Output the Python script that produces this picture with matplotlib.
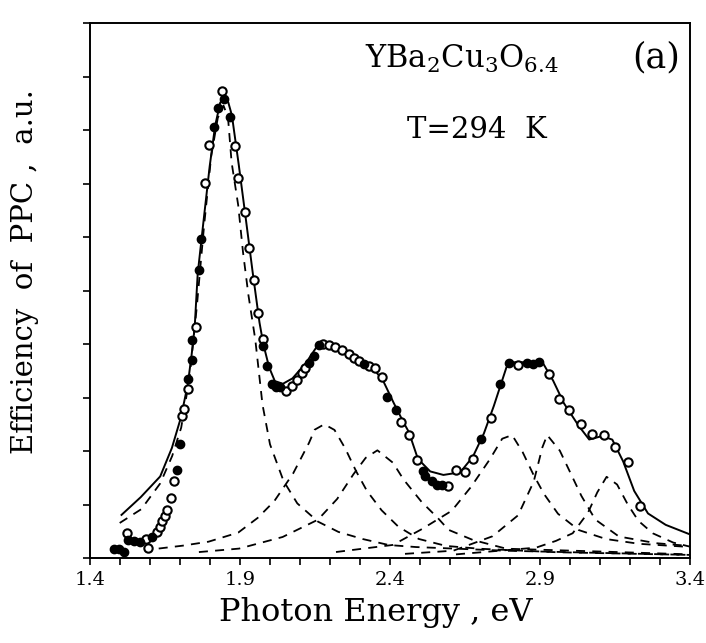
import matplotlib

matplotlib.use("Agg")
import matplotlib.pyplot as plt
from matplotlib.ticker import MultipleLocator, FixedLocator, NullFormatter

# measured points, open symbols (photon energy eV, efficiency a.u.)
open_e = [1.524, 1.585, 1.592, 1.624, 1.633, 1.639, 1.649, 1.658, 1.670, 1.681,
          1.706, 1.712, 1.726, 1.752, 1.784, 1.796, 1.840, 1.883, 1.894, 1.915,
          1.929, 1.946, 1.961, 1.977, 2.054, 2.073, 2.089, 2.105, 2.118, 2.178,
          2.198, 2.218, 2.239, 2.263, 2.280, 2.297, 2.331, 2.351, 2.372, 2.438,
          2.463, 2.489, 2.593, 2.621, 2.651, 2.676, 2.738, 2.825, 2.929, 2.962,
          2.997, 3.036, 3.074, 3.114, 3.149, 3.194, 3.233]
open_y = [0.475, 0.356, 0.190, 0.496, 0.591, 0.686, 0.781, 0.896, 1.123, 1.443,
          2.665, 2.779, 3.156, 4.322, 7.005, 7.719, 8.739, 7.699, 7.103, 6.471,
          5.800, 5.204, 4.590, 4.088, 3.131, 3.209, 3.325, 3.459, 3.555, 3.998,
          3.984, 3.951, 3.899, 3.810, 3.738, 3.686, 3.600, 3.548, 3.384, 2.536,
          2.299, 1.836, 1.352, 1.638, 1.607, 1.856, 2.617, 3.609, 3.443, 2.982,
          2.765, 2.511, 2.313, 2.302, 2.085, 1.795, 0.979]

# measured points, filled symbols
full_e = [1.479, 1.496, 1.513, 1.528, 1.545, 1.568, 1.608, 1.690, 1.700, 1.725,
          1.739, 1.741, 1.762, 1.771, 1.814, 1.825, 1.847, 1.866, 1.975, 1.991,
          2.006, 2.020, 2.033, 2.131, 2.146, 2.162, 2.313, 2.391, 2.420, 2.511,
          2.518, 2.539, 2.556, 2.573, 2.704, 2.767, 2.798, 2.855, 2.875, 2.898]
full_y = [0.166, 0.170, 0.117, 0.345, 0.311, 0.297, 0.399, 1.651, 2.140, 3.343,
          3.702, 4.075, 5.391, 5.973, 8.059, 8.417, 8.590, 8.239, 3.956, 3.585,
          3.251, 3.198, 3.201, 3.650, 3.786, 3.976, 3.634, 3.013, 2.776, 1.634,
          1.542, 1.434, 1.363, 1.366, 2.236, 3.260, 3.640, 3.652, 3.637, 3.661]

# total fit (solid line)
fit_e = [1.505, 1.569, 1.634, 1.673, 1.703, 1.726, 1.739, 1.749, 1.759, 1.779,
         1.799, 1.817, 1.834, 1.847, 1.861, 1.873, 1.896, 1.919, 1.942, 1.965,
         1.978, 1.997, 2.016, 2.043, 2.075, 2.120, 2.161, 2.195, 2.239, 2.297,
         2.341, 2.376, 2.412, 2.445, 2.463, 2.493, 2.534, 2.578, 2.634, 2.676,
         2.713, 2.746, 2.788, 2.808, 2.908, 2.944, 2.980, 3.029, 3.064, 3.107,
         3.141, 3.177, 3.214, 3.260, 3.319, 3.396]
fit_y = [0.808, 1.139, 1.527, 2.060, 2.627, 3.250, 3.814, 4.321, 5.315, 6.330,
         7.326, 8.079, 8.513, 8.609, 8.518, 8.277, 7.346, 6.359, 5.353, 4.403,
         3.994, 3.568, 3.310, 3.259, 3.360, 3.650, 3.995, 4.002, 3.917, 3.724,
         3.564, 3.328, 2.905, 2.538, 2.355, 1.855, 1.621, 1.555, 1.604, 1.893,
         2.331, 2.843, 3.564, 3.661, 3.663, 3.315, 2.892, 2.472, 2.217, 2.282,
         2.215, 1.810, 1.256, 0.835, 0.622, 0.452]

# fitted components (dashed lines)
c1_e = [1.499, 1.571, 1.634, 1.674, 1.704, 1.732, 1.756, 1.780, 1.804, 1.826,
        1.845, 1.860, 1.872, 1.894, 1.910, 1.928, 1.951, 1.975, 2.000, 2.045,
        2.091, 2.160, 2.228, 2.309, 2.396, 2.487, 2.788, 3.122, 3.400]
c1_y = [0.657, 0.915, 1.396, 1.910, 2.440, 3.382, 4.697, 6.199, 7.515, 8.230,
        8.459, 8.237, 7.398, 6.597, 5.721, 4.920, 4.082, 2.870, 2.127, 1.444,
        1.023, 0.682, 0.490, 0.357, 0.245, 0.207, 0.138, 0.095, 0.060]

c2_e = [1.629, 1.709, 1.795, 1.894, 1.959, 2.014, 2.077, 2.130, 2.149, 2.181,
        2.215, 2.251, 2.287, 2.323, 2.372, 2.428, 2.496, 2.587, 2.697, 2.955, 3.400]
c2_y = [0.179, 0.233, 0.307, 0.477, 0.752, 1.063, 1.582, 2.154, 2.401, 2.502,
        2.396, 2.048, 1.625, 1.258, 0.894, 0.587, 0.358, 0.228, 0.176, 0.110, 0.060]

c3_e = [1.763, 1.897, 2.042, 2.160, 2.224, 2.278, 2.319, 2.358, 2.410, 2.445,
        2.505, 2.560, 2.595, 2.676, 2.788, 3.120, 3.400]
c3_y = [0.113, 0.178, 0.395, 0.719, 1.107, 1.567, 1.875, 2.015, 1.782, 1.471,
        1.053, 0.746, 0.529, 0.340, 0.176, 0.120, 0.070]

c4_e = [2.220, 2.410, 2.508, 2.606, 2.670, 2.733, 2.774, 2.807, 2.842, 2.878,
        2.914, 2.960, 3.029, 3.120, 3.231, 3.398]
c4_y = [0.114, 0.247, 0.548, 0.886, 1.331, 1.849, 2.232, 2.300, 1.983, 1.561,
        1.194, 0.829, 0.525, 0.357, 0.267, 0.209]

c5_e = [2.450, 2.611, 2.742, 2.827, 2.879, 2.908, 2.924, 2.966, 3.002, 3.038,
        3.084, 3.163, 3.287, 3.398]
c5_y = [0.080, 0.139, 0.409, 0.801, 1.430, 2.072, 2.300, 2.009, 1.587, 1.163,
        0.723, 0.404, 0.279, 0.228]

c6_e = [2.620, 2.887, 2.953, 3.009, 3.060, 3.091, 3.122, 3.157, 3.192, 3.228,
        3.276, 3.344, 3.403]
c6_y = [0.070, 0.196, 0.322, 0.465, 0.850, 1.230, 1.520, 1.376, 1.008, 0.697,
        0.464, 0.291, 0.210]

components = [(c1_e, c1_y), (c2_e, c2_y), (c3_e, c3_y),
              (c4_e, c4_y), (c5_e, c5_y), (c6_e, c6_y)]

x_major = [1.4, 1.9, 2.4, 2.9, 3.4]
x_labels = ["1.4", "1.9", "2.4", "2.9", "3.4"]

plt.rcParams["font.family"] = "DejaVu Serif"
plt.rcParams["mathtext.fontset"] = "dejavuserif"

fig = plt.figure(figsize=(7.06, 6.43), dpi=100)
# axes box: 600 px wide, 535 px tall
ax = fig.add_axes([90 / 706, 0.132, 600 / 706, 0.832])

for ce, cy in components:
    ax.plot(ce, cy, color="black", linewidth=1.3, linestyle=(0, (5, 4)))
ax.plot(fit_e, fit_y, color="black", linewidth=1.4)
ax.plot(open_e, open_y, linestyle="none", marker="o", markersize=6,
        markerfacecolor="white", markeredgecolor="black", markeredgewidth=1.5)
ax.plot(full_e, full_y, linestyle="none", marker="o", markersize=6,
        markerfacecolor="black", markeredgecolor="black")

ax.set_xlim(1.4, 3.4)
ax.set_ylim(0, 10)
ax.xaxis.set_major_locator(FixedLocator(x_major))
ax.set_xticklabels(x_labels, fontsize=14)
ax.xaxis.set_minor_locator(MultipleLocator(0.1))
ax.yaxis.set_major_locator(MultipleLocator(1))
ax.yaxis.set_major_formatter(NullFormatter())
ax.tick_params(axis="both", which="both", direction="out", length=5, width=1.2,
               top=False, right=False)
ax.tick_params(axis="x", pad=4)
for sp in ax.spines.values():
    sp.set_linewidth(1.4)

ax.text(0.458, 0.916, r"YBa$_2$Cu$_3$O$_{6.4}$", transform=ax.transAxes,
        fontsize=22, ha="left", va="baseline")
ax.text(0.903, 0.935, "(a)", transform=ax.transAxes,
        fontsize=25, ha="left", va="center")
ax.text(0.528, 0.800, "T=294  K", transform=ax.transAxes,
        fontsize=21, ha="left", va="center")

fig.text(376 / 706, 1 - 612 / 643, "Photon Energy , eV", fontsize=23,
         ha="center", va="center")
fig.text(25 / 706, 1 - 272 / 643, "Efficiency  of  PPC ,  a.u.", fontsize=21,
         rotation=90, ha="center", va="center")

fig.savefig("out.png", dpi=100)
